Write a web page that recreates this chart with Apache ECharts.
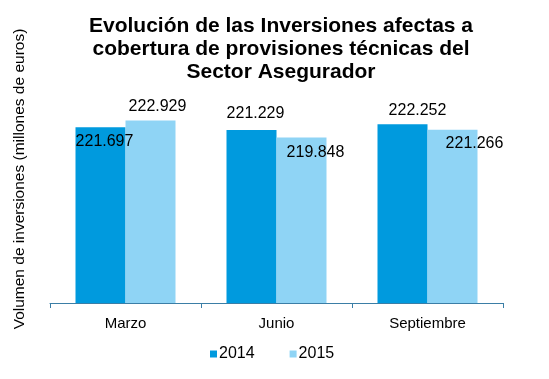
<!DOCTYPE html>
<html>
<head>
<meta charset="utf-8">
<script src="https://cdn.jsdelivr.net/npm/echarts@6/dist/echarts.min.js"></script>
<style>html,body{margin:0;padding:0;background:#fff;}#c{width:549px;height:379px;}</style>
</head>
<body>
<div id="c"></div>
<script>
const categories = ['Marzo', 'Junio', 'Septiembre'];
const seriesNames = ['2014', '2015'];
const values2014 = [221697, 221229, 222252];
const values2015 = [222929, 219848, 221266];
const titleText = 'Evolución de las Inversiones afectas a\ncobertura de provisiones técnicas del\nSector Asegurador';
const yAxisTitle = 'Volumen de inversiones (millones de euros)';

// label placement styles (pixel offsets relative to bar top)
const labelOffsets2014 = [[4, 22], [4, -8], [15, -6]];
const labelOffsets2015 = [[7, -6], [14, 23], [22, 22]];

const FONT = '"Liberation Sans", Arial, sans-serif';
const fmt = v => (v / 1000).toFixed(3);

function mkData(vals, offs) {
  return vals.map((v, i) => ({
    value: v,
    label: { offset: offs[i] }
  }));
}

const chart = echarts.init(document.getElementById('c'), null, { renderer: 'canvas' });
const axisColor = '#3b7ea6';
chart.setOption({
  animation: false,
  legend: {
    data: seriesNames,
    left: 210,
    top: 346,
    padding: 0,
    icon: 'rect',
    itemWidth: 7,
    itemHeight: 7,
    itemGap: 35,
    textStyle: { fontFamily: FONT, fontSize: 16, color: '#000', padding: [0, 0, 0, -3] }
  },
  grid: { left: 50, right: 46, top: 109, bottom: 76 },
  xAxis: {
    type: 'category',
    data: categories,
    axisLine: { lineStyle: { color: axisColor, width: 1 } },
    axisTick: { show: true, alignWithLabel: false, length: 5, lineStyle: { color: axisColor } },
    axisLabel: { fontFamily: FONT, fontSize: 15, color: '#000', margin: 13 }
  },
  yAxis: {
    type: 'value',
    min: 190000,
    max: 225000,
    axisLine: { show: false },
    axisTick: { show: false },
    axisLabel: { show: false },
    splitLine: { show: false }
  },
  graphic: [{
    type: 'text',
    x: 20,
    y: 179,
    rotation: Math.PI / 2,
    style: {
      text: yAxisTitle,
      font: '15.5px ' + FONT,
      fill: '#000',
      align: 'center',
      verticalAlign: 'middle'
    }
  }, {
    type: 'text',
    x: 281,
    y: 15,
    style: {
      text: titleText,
      font: 'bold 21px ' + FONT,
      fill: '#000',
      align: 'center',
      verticalAlign: 'top',
      lineHeight: 23
    }
  }],
  series: [
    {
      name: seriesNames[0],
      type: 'bar',
      barWidth: 50,
      barGap: '0%',
      itemStyle: { color: '#009ade' },
      label: { show: true, position: 'top', distance: 0, fontFamily: FONT, fontSize: 16, color: '#000', formatter: p => fmt(p.value) },
      data: mkData(values2014, labelOffsets2014)
    },
    {
      name: seriesNames[1],
      type: 'bar',
      barWidth: 50,
      barGap: '0%',
      itemStyle: { color: '#8fd4f5' },
      label: { show: true, position: 'top', distance: 0, fontFamily: FONT, fontSize: 16, color: '#000', formatter: p => fmt(p.value) },
      data: mkData(values2015, labelOffsets2015)
    }
  ]
});
</script>
</body>
</html>
